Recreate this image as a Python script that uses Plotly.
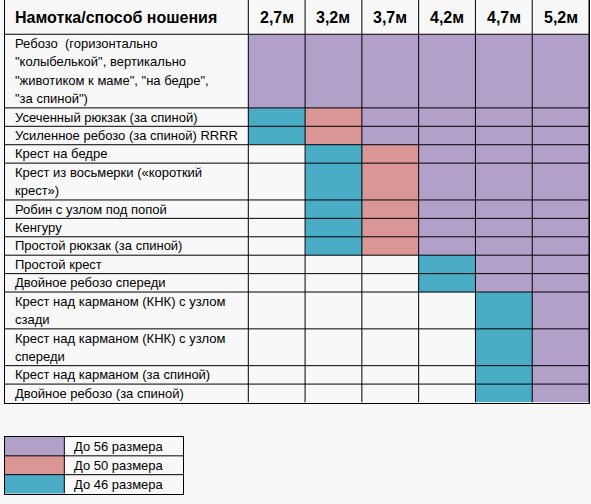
import plotly.graph_objects as go

# column headers: wrap length
lengths = ["2,7м", "3,2м", "3,7м", "4,2м", "4,7м", "5,2м"]
header_title = "Намотка/способ ношения"

# carry names, split into the lines as they wrap in the table
carries = [
    ["Ребозо\u00a0 (горизонтально", "\"колыбелькой\", вертикально",
     "\"животиком к маме\", \"на бедре\",", "\"за спиной\")"],
    ["Усеченный рюкзак (за спиной)"],
    ["Усиленное ребозо (за спиной) RRRR"],
    ["Крест на бедре"],
    ["Крест из восьмерки («короткий", "крест»)"],
    ["Робин с узлом под попой"],
    ["Кенгуру"],
    ["Простой рюкзак (за спиной)"],
    ["Простой крест"],
    ["Двойное ребозо спереди"],
    ["Крест над карманом (КНК) с узлом", "сзади"],
    ["Крест над карманом (КНК) с узлом", "спереди"],
    ["Крест над карманом (за спиной)"],
    ["Двойное ребозо (за спиной)"],
]

# max clothing size per carry and wrap length (0 = too short)
max_size = [
    [56, 56, 56, 56, 56, 56],
    [46, 50, 56, 56, 56, 56],
    [46, 50, 56, 56, 56, 56],
    [0, 46, 50, 56, 56, 56],
    [0, 46, 50, 56, 56, 56],
    [0, 46, 50, 56, 56, 56],
    [0, 46, 50, 56, 56, 56],
    [0, 46, 50, 56, 56, 56],
    [0, 0, 0, 46, 56, 56],
    [0, 0, 0, 46, 56, 56],
    [0, 0, 0, 0, 46, 56],
    [0, 0, 0, 0, 46, 56],
    [0, 0, 0, 0, 46, 56],
    [0, 0, 0, 0, 46, 56],
]

legend_sizes = [56, 50, 46]
legend_labels = ["До 56 размера", "До 50 размера", "До 46 размера"]

size_colors = {46: "#4BACC6", 50: "#DA9694", 56: "#B1A0C7"}
size_code = {46: 1, 50: 2, 56: 3}
colorscale = [
    [0, size_colors[46]], [1 / 3, size_colors[46]],
    [1 / 3, size_colors[50]], [2 / 3, size_colors[50]],
    [2 / 3, size_colors[56]], [1, size_colors[56]],
]

W, H = 591, 504
bg = "#F8F8F8"
font = "Liberation Sans"
header_h = 1.86          # header row height in text lines
label_w = 4.285          # label column width in data-column units

# row edges (y grows downward, in text lines)
edges = [0, header_h]
for c in carries:
    edges.append(edges[-1] + len(c))
total = edges[-1]
row_edges = edges[1:]

z = [[size_code[v] if v else None for v in row] for row in max_size]
col_edges = list(range(len(lengths) + 1))

fig = go.Figure()
fig.add_trace(go.Heatmap(
    z=z, x=col_edges, y=row_edges, colorscale=colorscale,
    zmin=0.5, zmax=3.5, showscale=False, hoverinfo="skip",
))

# grid lines
gx, gy = [], []
for xe in col_edges:
    gx += [xe, xe, None]
    gy += [0, total, None]
for ye in edges[1:-1]:
    gx += [-label_w, len(lengths), None]
    gy += [ye, ye, None]
fig.add_trace(go.Scatter(x=gx, y=gy, mode="lines", line=dict(color="black", width=1),
                         hoverinfo="skip", showlegend=False))

# legend table
lz = [[size_code[s]] for s in legend_sizes]
fig.add_trace(go.Heatmap(
    z=lz, x=[0, 1], y=list(range(len(legend_sizes) + 1)), colorscale=colorscale,
    zmin=0.5, zmax=3.5, showscale=False, hoverinfo="skip", xaxis="x2", yaxis="y2",
))
lgx, lgy = [1, 1, None], [0, len(legend_sizes), None]
for i in range(1, len(legend_sizes)):
    lgx += [0, 3, None]
    lgy += [i, i, None]
fig.add_trace(go.Scatter(x=lgx, y=lgy, mode="lines", line=dict(color="black", width=1),
                         hoverinfo="skip", showlegend=False, xaxis="x2", yaxis="y2"))

ann = []
body = dict(family=font, size=13, color="black")
head_font = dict(family=font, size=16, color="black")
ann.append(dict(x=-label_w, y=header_h / 2, text="<b>" + header_title + "</b>",
                xanchor="left", xshift=8, showarrow=False, font=head_font))
for i, lab in enumerate(lengths):
    ann.append(dict(x=i + 0.5, y=header_h / 2, text="<b>" + lab + "</b>",
                    showarrow=False, font=head_font))
for r, lines in enumerate(carries):
    for k, line in enumerate(lines):
        ann.append(dict(x=-label_w, y=edges[r + 1] + k + 0.5, text=line,
                        xanchor="left", xshift=8, showarrow=False, font=body))
for i, lab in enumerate(legend_labels):
    ann.append(dict(x=1, y=i + 0.5, text=lab, xref="x2", yref="y2",
                    xanchor="left", xshift=8, showarrow=False, font=body))

axis_common = dict(showgrid=False, zeroline=False, showticklabels=False, ticks="",
                   showline=True, mirror=True, linecolor="black", linewidth=1)

fig.update_layout(
    width=W, height=H,
    margin=dict(l=0, r=0, t=0, b=0),
    paper_bgcolor=bg, plot_bgcolor=bg,
    showlegend=False,
    annotations=ann,
    xaxis=dict(domain=[5 / W, 589 / W], range=[-label_w, len(lengths)], **axis_common),
    yaxis=dict(domain=[(H - 402.5) / H, 1], range=[total, 0], **axis_common),
    xaxis2=dict(domain=[5 / W, 183 / W], range=[0, 3], anchor="y2", **axis_common),
    yaxis2=dict(domain=[(H - 493.5) / H, (H - 437) / H], range=[len(legend_sizes), 0],
                anchor="x2", **axis_common),
)

# drop the page's default body margin so the figure sits at the window corner
fig.write_html("out.html", config={"displayModeBar": False},
               post_script="document.body.style.margin = '0';")
